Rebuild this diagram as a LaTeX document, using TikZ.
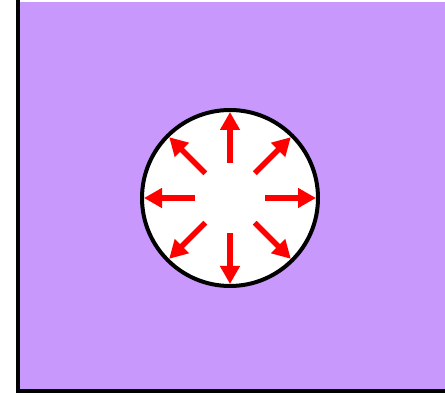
\documentclass[tikz,border=0pt]{standalone}
\usepackage{tikz}
\usetikzlibrary{arrows.meta, calc}
\definecolor{lilac}{RGB}{200,152,252}
\definecolor{pushred}{RGB}{255,0,0}

\begin{document}
\begin{tikzpicture}[
  x=1pt, y=-1pt,
  wall/.style={draw=black, line width=4.5pt},
  hole/.style={circle, draw=black, fill=white, line width=4pt,
    minimum size=176pt, inner sep=0pt},
  push/.style={-{Triangle[length=18pt, width=19pt]}, pushred, line width=5.5pt}
]
  \useasboundingbox (0,0) rectangle (445,395);
  \fill[lilac] (18,2) rectangle (445,391);
  \draw[wall] (18,0) -- (18,391) -- (445,391);

  \node[hole] (hole) at (230,198) {};

  % radial arrows from the centre
  \foreach \a in {0,45,...,315}
    \draw[push] ($(hole.center)+(\a:35)$) -- ($(hole.center)+(\a:86)$);
\end{tikzpicture}
\end{document}
